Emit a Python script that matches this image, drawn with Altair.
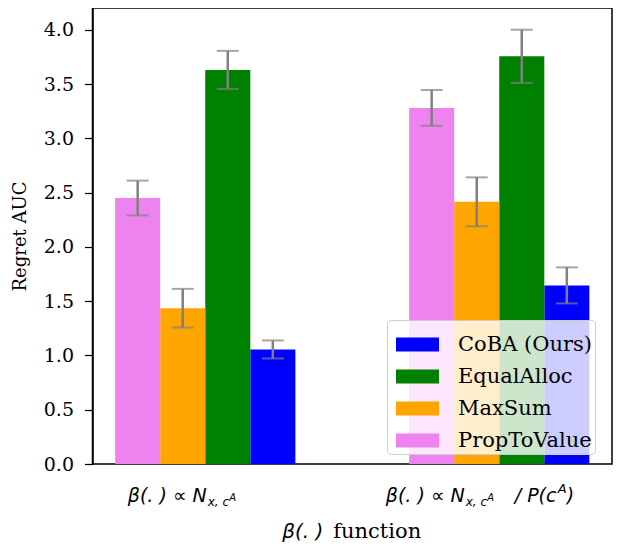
import altair as alt
import pandas as pd

# ---------------- data ----------------
group_names = ["beta ∝ N_{x,c^A}", "beta ∝ N_{x,c^A} / P(c^A)"]
methods = ["CoBA (Ours)", "EqualAlloc", "MaxSum", "PropToValue"]      # legend order
bar_order = ["PropToValue", "MaxSum", "EqualAlloc", "CoBA (Ours)"]    # left-to-right in a group
colors = ["#0000ff", "#008000", "#ffa500", "#ee82ee"]

# values per group [group1, group2]
coba_mean = [1.055, 1.645]
coba_err = [0.083, 0.166]
equal_mean = [3.63, 3.755]
equal_err = [0.175, 0.245]
maxsum_mean = [1.435, 2.415]
maxsum_err = [0.178, 0.225]
prop_mean = [2.45, 3.28]
prop_err = [0.16, 0.165]

y_ticks = [0.0, 0.5, 1.0, 1.5, 2.0, 2.5, 3.0, 3.5, 4.0]

rows = []
for m, means, errs in [
    ("CoBA (Ours)", coba_mean, coba_err),
    ("EqualAlloc", equal_mean, equal_err),
    ("MaxSum", maxsum_mean, maxsum_err),
    ("PropToValue", prop_mean, prop_err),
]:
    for g, mu, e in zip(group_names, means, errs):
        rows.append({"group": g, "method": m, "mean": mu, "err": e})
df = pd.DataFrame(rows)

# ---------------- layout ----------------
W, H = 519.5, 456
x_scale = alt.Scale(domain=group_names, paddingInner=0.387, paddingOuter=0.077)
xo_scale = alt.Scale(domain=bar_order, paddingInner=0, paddingOuter=0)
y_scale = alt.Scale(domain=[0, 4.2], nice=False, zero=True)

x_axis = alt.Axis(title=None, labels=False, ticks=True, tickSize=8, tickColor="black",
                  tickWidth=1.25, domainColor="black", domainWidth=1.5,
                  bandPosition=0.375, grid=False)
y_axis = alt.Axis(values=y_ticks, format=".1f", title="Regret AUC",
                  titleFont="DejaVu Serif", titleFontSize=18, titleFontWeight="normal",
                  titleColor="black", titlePadding=14,
                  labelFont="DejaVu Serif", labelFontSize=19, labelColor="black",
                  labelPadding=11, tickSize=8, tickColor="black", tickWidth=1.25,
                  domainColor="black", domainWidth=1.5, grid=False)

legend = alt.Legend(
    title=None, orient="none", legendX=294.5, legendY=312,
    symbolType="M-1,-0.33L1,-0.33L1,0.33L-1,0.33Z", symbolSize=1849,
    symbolStrokeWidth=0, symbolOffset=6, labelFont="DejaVu Serif", labelFontSize=21,
    labelColor="black", labelOffset=19, rowPadding=0, padding=3,
    fillColor="rgba(255,255,255,0.8)", strokeColor="#cccccc", cornerRadius=4,
    labelLimit=400,
)

base = alt.Chart(df)

bars = base.mark_bar().encode(
    x=alt.X("group:N", scale=x_scale, axis=x_axis),
    xOffset=alt.XOffset("method:N", scale=xo_scale),
    y=alt.Y("mean:Q", scale=y_scale, axis=y_axis),
    color=alt.Color("method:N", scale=alt.Scale(domain=methods, range=colors), legend=legend),
)

err_base = base.transform_calculate(lo="datum.mean - datum.err", hi="datum.mean + datum.err")
rules = err_base.mark_rule(color="#808080", strokeWidth=2.5).encode(
    x=alt.X("group:N", scale=x_scale, axis=x_axis),
    xOffset=alt.XOffset("method:N", scale=xo_scale),
    y=alt.Y("lo:Q", scale=y_scale, axis=y_axis),
    y2="hi:Q",
)
caps_lo = err_base.mark_tick(color="#808080", size=22, thickness=2).encode(
    x=alt.X("group:N", scale=x_scale, axis=x_axis),
    xOffset=alt.XOffset("method:N", scale=xo_scale),
    y=alt.Y("lo:Q", scale=y_scale, axis=y_axis),
)
caps_hi = err_base.mark_tick(color="#808080", size=22, thickness=2).encode(
    x=alt.X("group:N", scale=x_scale, axis=x_axis),
    xOffset=alt.XOffset("method:N", scale=xo_scale),
    y=alt.Y("hi:Q", scale=y_scale, axis=y_axis),
)

# tick labels composed of math pieces: (group idx, text, size, align, dx, dy)
LABEL_Y = 494
label_pieces = [
    (0, "β(. ) ∝ N", 19, "right", 24, 0),
    (0, "x, c", 12, "left", 25, 4),
    (0, "A", 10, "left", 46.5, -1),
    (1, "β(. ) ∝ N", 19, "right", -12, 0),
    (1, "x, c", 12, "left", -11, 4),
    (1, "A", 10, "left", 10.5, -1),
    (1, "/ P(c", 19, "left", 38, 0),
    (1, "A", 13, "left", 81, -9),
    (1, ")", 19, "left", 90, 0),
]
texts = []
for gi, txt, size, align, dx, dy in label_pieces:
    texts.append(
        alt.Chart(alt.Data(values=[{"group": group_names[gi]}]))
        .mark_text(text=txt, font="DejaVu Sans", fontStyle="italic", fontSize=size,
                   align=align, baseline="alphabetic", dx=dx, dy=dy, color="black")
        .encode(x=alt.X("group:N", scale=x_scale, axis=None, bandPosition=0.375),
                y=alt.value(LABEL_Y))
    )

# x-axis title "β(.) function"
TITLE_Y = 530
texts.append(
    alt.Chart(alt.Data(values=[{"k": 0}]))
    .mark_text(text="β(. )", font="DejaVu Sans", fontStyle="italic", fontSize=20,
               align="right", baseline="alphabetic", dx=-29, color="black")
    .encode(x=alt.value(W / 2), y=alt.value(TITLE_Y))
)
texts.append(
    alt.Chart(alt.Data(values=[{"k": 0}]))
    .mark_text(text="function", font="DejaVu Serif", fontSize=21,
               align="left", baseline="alphabetic", dx=-19, color="black")
    .encode(x=alt.value(W / 2), y=alt.value(TITLE_Y))
)

chart = (
    alt.layer(bars, rules, caps_lo, caps_hi, *texts)
    .properties(
        width=W, height=H,
        autosize=alt.AutoSizeParams(type="none"),
        padding={"left": 84.5, "top": 0, "right": 4, "bottom": 79},
        background="white",
    )
    .configure_view(stroke="black", strokeWidth=1.5)
)

chart.save("out.html", embed_options={"renderer": "svg", "actions": False})
